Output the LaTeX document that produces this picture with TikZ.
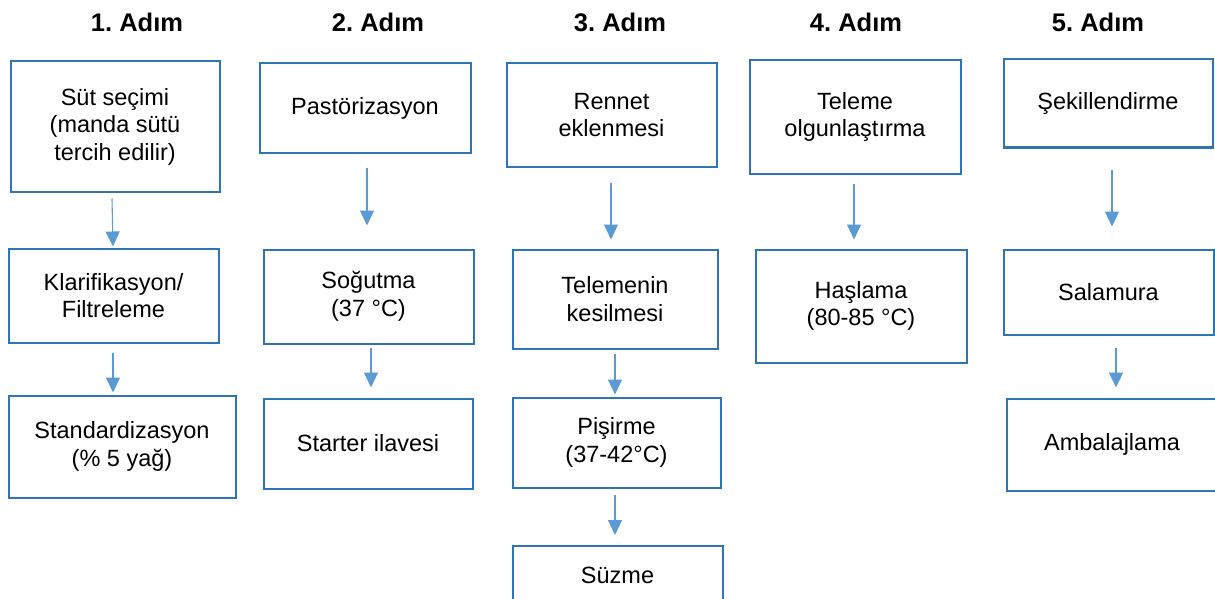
\documentclass[tikz,border=0pt]{standalone}
\usepackage{fontspec}
\setmainfont{Liberation Sans}
\usetikzlibrary{arrows.meta}
\definecolor{boxblue}{HTML}{2E75B6}
\definecolor{arrblue}{HTML}{5B9BD5}
\frenchspacing
\tikzset{
  stepbox/.style={draw=boxblue, line width=2pt, rectangle, align=center, inner sep=0pt,
    font={\fontsize{23.5}{27.5}\selectfont}, text=black},
  head/.style={font={\fontsize{25.5}{30}\selectfont\bfseries}, text=black, inner sep=0pt},
  arr/.style={draw=arrblue, line width=1.1pt, -{Triangle[width=14pt,length=15pt]}, arrblue}
}
\begin{document}
\begin{tikzpicture}[x=1pt,y=-1pt]
\useasboundingbox (0,0) rectangle (1215,599);
% headings
\node[head] (h1) at (137,22) {1. Adım};
\node[head] (h2) at (378,22) {2. Adım};
\node[head] (h3) at (620,22) {3. Adım};
\node[head] (h4) at (856,22) {4. Adım};
\node[head] (h5) at (1098,22) {5. Adım};
% column 1
\node[stepbox, minimum width=209pt, minimum height=130pt] (b11) at (115,126.5) {Süt seçimi\\(manda sütü\\tercih edilir)};
\node[stepbox, minimum width=210pt, minimum height=94pt] (b12) at (113.5,295.5) {Klarifikasyon/\\Filtreleme};
\node[stepbox, minimum width=227pt, minimum height=102pt] (b13) at (122,446.5) {Standardizasyon\\(\% 5 yağ)};
% column 2
\node[stepbox, minimum width=211pt, minimum height=89pt] (b21) at (365,108) {Pastörizasyon};
\node[stepbox, minimum width=210pt, minimum height=94pt] (b22) at (368.5,296.5) {Soğutma\\(37 °C)};
\node[stepbox, minimum width=209pt, minimum height=90pt] (b23) at (368,443.5) {Starter ilavesi};
% column 3
\node[stepbox, minimum width=210pt, minimum height=103pt] (b31) at (611.5,115) {Rennet\\eklenmesi};
\node[stepbox, minimum width=205pt, minimum height=99pt] (b32) at (615,299) {Telemenin\\kesilmesi};
\node[stepbox, minimum width=208pt, minimum height=90pt] (b33) at (616.5,442.5) {Pişirme\\(37-42°C)};
\node[stepbox, minimum width=210pt, minimum height=58pt] (b34) at (617.5,575) {Süzme};
% column 4
\node[stepbox, minimum width=211pt, minimum height=113pt] (b41) at (855,117) {Teleme\\olgunlaştırma};
\node[stepbox, minimum width=211pt, minimum height=113pt] (b42) at (861,306) {Haşlama\\(80-85 °C)};
% column 5
\node[stepbox, minimum width=209pt, minimum height=88pt] (b51) at (1108,103.5) {Şekillendirme};
\node[stepbox, minimum width=210pt, minimum height=85pt] (b52) at (1108.5,292) {Salamura};
\node[stepbox, minimum width=211pt, minimum height=92pt] (b53) at (1112,444.5) {Ambalajlama};
% arrows
\draw[arr] ([xshift=-3pt,yshift=-6pt]b11.south) -- ([xshift=-0.5pt,yshift=1pt]b12.north);
\draw[arr] ([xshift=-0.5pt,yshift=-9pt]b12.south) -- ([xshift=-9pt,yshift=2pt]b13.north);
\draw[arr] ([xshift=2pt,yshift=-14pt]b21.south) -- ([xshift=-1.5pt,yshift=23pt]b22.north);
\draw[arr] ([xshift=2.5pt,yshift=-3pt]b22.south) -- ([xshift=3pt,yshift=10pt]b23.north);
\draw[arr] ([xshift=-0.5pt,yshift=-15pt]b31.south) -- ([xshift=-4pt,yshift=9pt]b32.north);
\draw[arr] ([yshift=-4pt]b32.south) -- ([xshift=-1.5pt,yshift=2pt]b33.north);
\draw[arr] ([xshift=-1.5pt,yshift=-6pt]b33.south) -- ([xshift=-2.5pt,yshift=10pt]b34.north);
\draw[arr] ([xshift=-1pt,yshift=-9pt]b41.south) -- ([xshift=-7pt,yshift=9pt]b42.north);
\draw[arr] ([xshift=4pt,yshift=-21pt]b51.south) -- ([xshift=3.5pt,yshift=22pt]b52.north);
\draw[arr] ([xshift=7.5pt,yshift=-12pt]b52.south) -- ([xshift=4pt,yshift=10pt]b53.north);
\end{tikzpicture}
\end{document}
